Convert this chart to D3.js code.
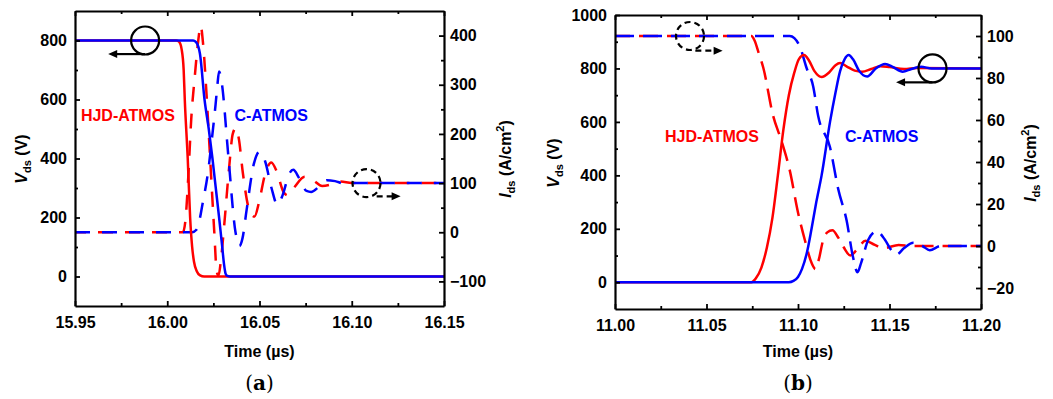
<!DOCTYPE html>
<html>
<head>
<meta charset="utf-8">
<script src="https://cdn.jsdelivr.net/npm/d3@7"></script>
<style>
  body { margin: 0; background: #fff; }
  text { font-family: "Liberation Sans", Arial, sans-serif; font-weight: bold; }
</style>
</head>
<body>
<svg id="chart" width="1053" height="399"></svg>
<script>
// ---- panel (a): turn-off, [time (us), value] ----
var aHjdVds = [[15.95,800],[16.005,800],[16.0065,795],[16.0078,770],[16.0089,700],[16.0095,600],[16.0111,400],
  [16.0124,200],[16.0135,100],[16.0145,50],[16.016,18],[16.0178,4],[16.02,0],[16.15,0]];
var aCVds = [[15.95,800],[16.014,800],[16.0155,795],[16.0177,756],[16.0202,600],[16.0225,500],[16.0245,400],
  [16.0263,300],[16.0281,200],[16.0298,100],[16.0308,40],[16.0316,10],[16.0325,2],[16.034,0],[16.15,0]];
var aHjdIds = [[15.95,0],[16.0085,0],[16.010,30],[16.0115,120],[16.013,230],[16.015,320],[16.0168,390],[16.0181,420],
  [16.0195,380],[16.0213,280],[16.0231,160],[16.0255,0],[16.0268,-80],[16.0278,-88],[16.029,-60],[16.031,20],
  [16.0335,130],[16.0355,200],[16.0372,212],[16.0388,190],[16.041,120],[16.0445,45],[16.0473,32],[16.0498,62],
  [16.053,118],[16.0564,142],[16.0595,122],[16.063,82],[16.0655,75],[16.069,92],[16.0745,113],[16.079,106],
  [16.084,94],[16.0895,98],[16.094,103],[16.1,100],[16.15,100]];
var aCIds = [[15.95,0],[16.0135,0],[16.0158,5],[16.0175,25],[16.019,55],[16.0222,125],[16.0245,200],[16.0262,260],
  [16.0272,300],[16.0281,327],[16.0295,305],[16.033,160],[16.037,0],[16.0391,-28],[16.0408,-12],[16.043,45],
  [16.047,140],[16.05,164],[16.053,145],[16.0565,90],[16.0597,56],[16.0625,75],[16.066,118],[16.0683,127],
  [16.0715,110],[16.0755,84],[16.078,82],[16.082,92],[16.0865,106],[16.091,104],[16.096,99],[16.1,100],[16.15,100]];

// ---- panel (b): turn-on ----
var bHjdVds = [[11.0,0],[11.0745,0],[11.077,15],[11.080,55],[11.083,130],[11.086,240],[11.089,400],[11.092,570],
  [11.095,700],[11.098,785],[11.1005,835],[11.1033,850],[11.106,830],[11.109,790],[11.1129,768],[11.117,785],
  [11.1205,812],[11.123,820],[11.1265,808],[11.131,792],[11.135,788],[11.140,798],[11.145,808],[11.150,805],
  [11.158,798],[11.165,802],[11.2,800]];
var bCVds = [[11.0,0],[11.095,0],[11.0975,5],[11.100,20],[11.1022,50],[11.105,115],[11.1074,200],[11.110,300],
  [11.1129,400],[11.1175,600],[11.1205,710],[11.123,790],[11.1255,835],[11.1277,850],[11.130,835],[11.1335,790],
  [11.1378,770],[11.1425,800],[11.1476,817],[11.152,805],[11.1572,788],[11.162,798],[11.1673,806],[11.173,800],[11.2,800]];
var bHjdIds = [[11.0,100],[11.0745,100],[11.0762,98],[11.0785,92],[11.081,85],[11.0864,62],[11.091,50],[11.0955,36],
  [11.1,16],[11.1037,3],[11.1074,-8],[11.1096,-11],[11.1115,-6],[11.1135,2],[11.116,6.5],[11.1188,7.5],[11.122,4],
  [11.1249,-0.5],[11.1286,-4.5],[11.132,-2],[11.1369,2.5],[11.142,0.5],[11.147,-1],[11.155,0.5],[11.162,0],[11.2,0]];
var bCIds = [[11.0,100],[11.0955,100],[11.098,99],[11.101,95],[11.1046,85],[11.1083,76],[11.111,62],[11.1175,47],
  [11.122,27],[11.1266,12],[11.13,-5],[11.1325,-12.5],[11.1345,-8],[11.1384,3],[11.143,7],[11.1475,3],[11.151,-2],
  [11.1539,-4],[11.158,-1],[11.163,1.5],[11.168,0],[11.172,-2],[11.178,0],[11.2,0]];

// ticks
var aXTicks = [15.95, 16.00, 16.05, 16.10, 16.15];
var aXMinor = [15.975, 16.025, 16.075, 16.125];
var aLTicks = [0, 200, 400, 600, 800];
var aLMinor = [100, 300, 500, 700];
var aRTicks = [-100, 0, 100, 200, 300, 400];
var aRMinor = [-50, 50, 150, 250, 350];
var bXTicks = [11.00, 11.05, 11.10, 11.15, 11.20];
var bXMinor = [11.025, 11.075, 11.125, 11.175];
var bLTicks = [0, 200, 400, 600, 800, 1000];
var bLMinor = [100, 300, 500, 700, 900];
var bRTicks = [-20, 0, 20, 40, 60, 80, 100];
var bRMinor = [-10, 10, 30, 50, 70, 90];

var RED = "#ff0000", BLUE = "#0000ff";
var svg = d3.select("#chart");

function styleAxis(g) {
  g.attr("font-size", 16).attr("font-family", null);
  g.selectAll("text").style("font-weight", "bold").attr("fill", "#000");
  g.select(".domain").attr("stroke-width", 2.2);
  g.selectAll(".tick line").attr("stroke-width", 1.8);
}

function arrow(g, x1, y1, x2, y2, dashed) {
  var dir = x2 > x1 ? 1 : -1;
  g.append("line").attr("x1", x1).attr("y1", y1).attr("x2", x2 - dir * 6).attr("y2", y2)
    .attr("stroke", "#000").attr("stroke-width", 2.2)
    .attr("stroke-dasharray", dashed ? "6,4" : null);
  g.append("path")
    .attr("d", `M${x2},${y2} L${x2 - dir * 9},${y2 - 4} L${x2 - dir * 9},${y2 + 4} Z`)
    .attr("fill", "#000");
}

function rotTitle(g, bx, cy, main, rest, sup) {
  var t = g.append("text").attr("transform", `translate(${bx},${cy}) rotate(-90)`)
    .attr("text-anchor", "middle").attr("font-size", 16);
  t.append("tspan").attr("font-style", "italic").text(main);
  t.append("tspan").attr("font-size", 11).attr("dy", 4).text("ds");
  t.append("tspan").attr("dy", -4).text(rest);
  if (sup) {
    t.append("tspan").attr("font-size", 11).attr("dy", -7).text(sup);
    t.append("tspan").attr("dy", 7).text(")");
  }
}

function drawPanel(p) {
  var g = svg.append("g");
  var x = d3.scaleLinear().domain(p.xDomain).range([p.x0, p.x1]);
  var yl = d3.scaleLinear().domain(p.lDomain).range([p.y1, p.y0]);
  var yr = d3.scaleLinear().domain(p.rDomain).range([p.y1, p.y0]);

  // data
  var lineL = d3.line().x(d => x(d[0])).y(d => yl(d[1])).curve(d3.curveMonotoneX);
  var lineR = d3.line().x(d => x(d[0])).y(d => yr(d[1])).curve(d3.curveMonotoneX);
  g.append("path").attr("d", lineR(p.hjdIds)).attr("fill", "none").attr("stroke", RED)
    .attr("stroke-width", 2.5).attr("stroke-dasharray", p.dash).attr("stroke-dashoffset", 4);
  g.append("path").attr("d", lineR(p.cIds)).attr("fill", "none").attr("stroke", BLUE)
    .attr("stroke-width", 2.5).attr("stroke-dasharray", p.dash);
  g.append("path").attr("d", lineL(p.hjdVds)).attr("fill", "none").attr("stroke", RED).attr("stroke-width", 2.5);
  g.append("path").attr("d", lineL(p.cVds)).attr("fill", "none").attr("stroke", BLUE).attr("stroke-width", 2.5);

  // minor ticks
  [[d3.axisBottom(x), p.xMinor, `translate(0,${p.y1})`],
   [d3.axisTop(x), p.xMinor, `translate(0,${p.y0})`],
   [d3.axisLeft(yl), p.lMinor, `translate(${p.x0},0)`],
   [d3.axisRight(yr), p.rMinor, `translate(${p.x1},0)`]].forEach(function(a) {
    var ag = g.append("g").attr("transform", a[2])
      .call(a[0].tickValues(a[1]).tickSize(-3).tickFormat(""));
    ag.select(".domain").remove();
    ag.selectAll(".tick line").attr("stroke-width", 1.8);
  });

  // major axes
  g.append("g").attr("transform", `translate(0,${p.y1})`)
    .call(d3.axisBottom(x).tickValues(p.xTicks).tickSizeInner(-5).tickSizeOuter(0)
      .tickPadding(11).tickFormat(d3.format(".2f"))).call(styleAxis);
  g.append("g").attr("transform", `translate(0,${p.y0})`)
    .call(d3.axisTop(x).tickValues(p.xTicks).tickSizeInner(-5).tickSizeOuter(0).tickFormat("")).call(styleAxis);
  g.append("g").attr("transform", `translate(${p.x0},0)`)
    .call(d3.axisLeft(yl).tickValues(p.lTicks).tickSizeInner(-5).tickSizeOuter(0).tickPadding(8)
      .tickFormat(d3.format("d"))).call(styleAxis);
  g.append("g").attr("transform", `translate(${p.x1},0)`)
    .call(d3.axisRight(yr).tickValues(p.rTicks).tickSizeInner(-5).tickSizeOuter(0).tickPadding(6)
      .tickFormat(d3.format("d"))).call(styleAxis);

  // series labels
  g.append("text").attr("x", x(p.hjdLab[0])).attr("y", yl(p.hjdLab[1])).attr("fill", RED)
    .attr("font-size", 16).text("HJD-ATMOS");
  g.append("text").attr("x", x(p.cLab[0])).attr("y", yl(p.cLab[1])).attr("fill", BLUE)
    .attr("font-size", 16).text("C-ATMOS");

  // axis pointer circles
  var sc = p.solidCircle, dc = p.dashCircle;
  g.append("circle").attr("cx", x(sc[0])).attr("cy", yl(sc[1])).attr("r", 14)
    .attr("fill", "none").attr("stroke", "#000").attr("stroke-width", 2.2);
  arrow(g, x(sc[0]), yl(sc[2]), x(sc[3]), yl(sc[2]), false);
  g.append("circle").attr("cx", x(dc[0])).attr("cy", yr(dc[1])).attr("r", 14)
    .attr("fill", "none").attr("stroke", "#000").attr("stroke-width", 2.2).attr("stroke-dasharray", "6,4");
  arrow(g, x(dc[2]), yr(dc[3]), x(dc[4]), yr(dc[3]), true);

  // titles
  var cx = (p.x0 + p.x1) / 2;
  rotTitle(g, p.lTitleX, p.titleY, "V", " (V)");
  rotTitle(g, p.rTitleX, p.titleY, "I", " (A/cm", "2");
  g.append("text").attr("x", cx).attr("y", 357).attr("text-anchor", "middle").attr("font-size", 16).text("Time (\u00b5s)");
  var lt = g.append("text").attr("x", cx).attr("y", 390).attr("text-anchor", "middle")
    .attr("font-size", 20).style("font-family", "'DejaVu Serif', serif").style("font-weight", "normal");
  lt.append("tspan").text("(");
  lt.append("tspan").style("font-weight", "bold").text(p.letter);
  lt.append("tspan").text(")");
}

drawPanel({
  x0: 75, x1: 444, y0: 11, y1: 306,
  xDomain: [15.95, 16.15], lDomain: [-100, 900], rDomain: [-150, 450],
  xTicks: aXTicks, xMinor: aXMinor, lTicks: aLTicks, lMinor: aLMinor, rTicks: aRTicks, rMinor: aRMinor,
  hjdVds: aHjdVds, cVds: aCVds, hjdIds: aHjdIds, cIds: aCIds, dash: "15,12",
  hjdLab: [15.9532, 528], cLab: [16.0364, 528],
  solidCircle: [15.988, 800, 754, 15.968], dashCircle: [16.108, 100, 16.1135, 73, 16.1265],
  lTitleX: 27, rTitleX: 511, titleY: 159, letter: "a"
});
drawPanel({
  x0: 615, x1: 981, y0: 15, y1: 309,
  xDomain: [11.00, 11.20], lDomain: [-100, 1000], rDomain: [-30, 110],
  xTicks: bXTicks, xMinor: bXMinor, lTicks: bLTicks, lMinor: bLMinor, rTicks: bRTicks, rMinor: bRMinor,
  hjdVds: bHjdVds, cVds: bCVds, hjdIds: bHjdIds, cIds: bCIds, dash: "19,9",
  hjdLab: [11.0273, 523], cLab: [11.1257, 523],
  solidCircle: [11.1735, 800, 748, 11.1536], dashCircle: [11.041, 100, 11.0439, 93, 11.0588],
  lTitleX: 559, rTitleX: 1036, titleY: 163, letter: "b"
});
</script>
</body>
</html>
